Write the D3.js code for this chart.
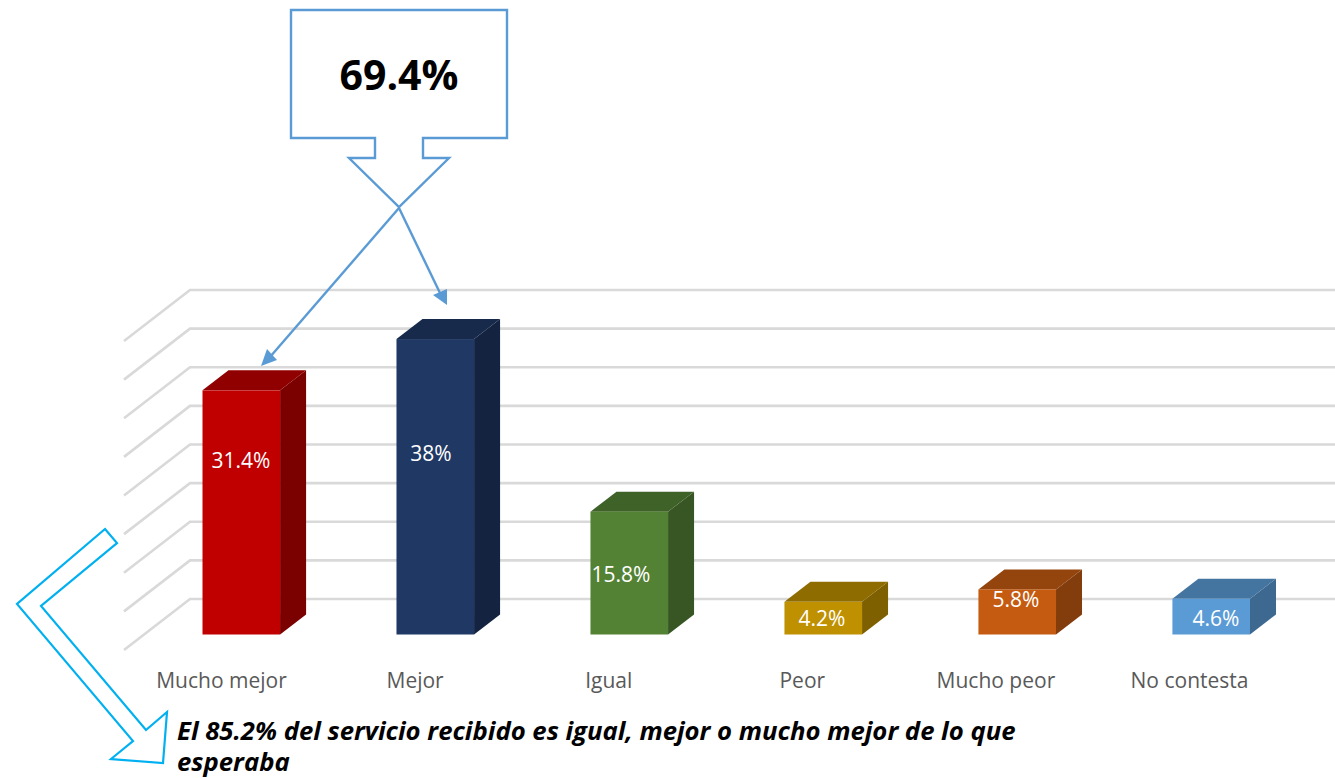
<!DOCTYPE html>
<html lang="es">
<head>
<meta charset="utf-8">
<style>
	html, body { margin: 0; padding: 0; background: #fff; }
	svg { display: block; }
	text { font-family: "Open Sans", "Noto Sans", sans-serif; }
</style>
</head>
<body>
<svg width="1335" height="778"></svg>
<script src="https://d3js.org/d3.v7.min.js"></script>
<script>
	var categories = ["Mucho mejor", "Mejor", "Igual", "Peor", "Mucho peor", "No contesta"];
	var values = [31.4, 38, 15.8, 4.2, 5.8, 4.6];
	var gridTicks = [0, 5, 10, 15, 20, 25, 30, 35, 40];
	var frontColors = ["#c00000", "#1f3864", "#548235", "#bf9000", "#c55a11", "#5b9bd5"];
	var topColors = ["#900000", "#172a4b", "#3f6228", "#8f6c00", "#94440d", "#4474a0"];
	var sideColors = ["#7b0000", "#14233f", "#375623", "#7f6000", "#833c0b", "#3d6990"];

	// hand placed in the original, so they do not follow the bars
	var labelCenters = [241, 431, 621, 822, 1016, 1216];
	var labelMiddles = [460, 453, 574, 618, 599, 618];

	var svg = d3.select("svg");

	var depthX = 26, depthY = 20;
	var wallX = 66, wallY = 51;

	var gridY = d3.scaleLinear().domain([0, 40]).range([599, 290]);
	var barY = d3.scaleLinear().domain([0, 40]).range([634.5, 323.5]);
	var x = d3.scaleBand().domain(categories).range([202.5, 1250]).paddingInner(0.6).paddingOuter(0);
	var labelX = d3.scalePoint().domain(categories).range([221, 1189]);

	// back wall and left wall
	var grid = svg.append("g");
	grid.selectAll(".wall")
		.data(gridTicks)
		.enter().append("polyline")
		.attr("class", "wall")
		.attr("fill", "none")
		.attr("stroke", "#d9d9d9")
		.attr("stroke-width", 2.6)
		.attr("points", function(d) {
			var y = gridY(d);
			return (190 - wallX) + "," + (y + wallY) + " 190," + y + " 1335," + y;
		});

	// bars: side and top first, then the front face
	var bars = svg.append("g").selectAll("g")
		.data(values)
		.enter().append("g");

	bars.append("polygon")
		.attr("fill", function(d, i) { return sideColors[i]; })
		.attr("points", function(d, i) {
			var r = x(categories[i]) + x.bandwidth();
			var t = barY(d), b = barY(0);
			return [[r, t], [r + depthX, t - depthY], [r + depthX, b - depthY], [r, b]].join(" ");
		});

	bars.append("polygon")
		.attr("fill", function(d, i) { return topColors[i]; })
		.attr("points", function(d, i) {
			var l = x(categories[i]), r = l + x.bandwidth();
			var t = barY(d);
			return [[l, t], [l + depthX, t - depthY], [r + depthX, t - depthY], [r, t]].join(" ");
		});

	bars.append("rect")
		.attr("fill", function(d, i) { return frontColors[i]; })
		.attr("x", function(d, i) { return x(categories[i]); })
		.attr("y", function(d) { return barY(d); })
		.attr("width", x.bandwidth())
		.attr("height", function(d) { return barY(0) - barY(d); });

	bars.append("text")
		.attr("x", function(d, i) { return labelCenters[i]; })
		.attr("y", function(d, i) { return labelMiddles[i]; })
		.attr("dy", "0.36em")
		.attr("text-anchor", "middle")
		.attr("font-size", "21px")
		.attr("fill", "#fff")
		.text(function(d) { return d + "%"; });

	// category labels
	var axis = svg.append("g")
		.attr("transform", "translate(0,668)")
		.call(d3.axisBottom(labelX).tickSize(0).tickPadding(0));
	axis.select(".domain").remove();
	axis.selectAll("text")
		.attr("dy", "0.36em")
		.attr("y", 12.5)
		.attr("font-size", "21px")
		.attr("font-family", '"Open Sans", "Noto Sans", sans-serif')
		.attr("fill", "#595959");

	// callout over the two best answers
	var blue = "#5b9bd5";
	svg.append("polygon")
		.attr("fill", "#fff")
		.attr("stroke", blue)
		.attr("stroke-width", 2.4)
		.attr("points", "291,10 507,10 507,138 423,138 423,158 449,158 399,207 349,158 375,158 375,138 291,138");
	svg.append("text")
		.attr("x", 399)
		.attr("y", 90)
		.attr("text-anchor", "middle")
		.attr("font-size", "41px")
		.attr("font-weight", 700)
		.attr("fill", "#000")
		.text("69.4%");

	svg.append("line").attr("x1", 399).attr("y1", 208).attr("x2", 270).attr("y2", 357)
		.attr("stroke", blue).attr("stroke-width", 2.4);
	svg.append("polygon").attr("fill", blue).attr("points", "261,366 267,349 277,360");
	svg.append("line").attr("x1", 399).attr("y1", 208).attr("x2", 440).attr("y2", 293)
		.attr("stroke", blue).attr("stroke-width", 2.4);
	svg.append("polygon").attr("fill", blue).attr("points", "447,305 433,295 447,289");

	// bent arrow and closing note
	svg.append("polygon")
		.attr("fill", "#fff")
		.attr("stroke", "#00b0f0")
		.attr("stroke-width", 2.2)
		.attr("points", "105,529 117,543 41,606 146,730 167,712 163,763 111,759 133,741 17,604");

	var note = svg.append("text")
		.attr("font-size", "25.7px")
		.attr("font-weight", 700)
		.attr("font-style", "italic")
		.attr("fill", "#000");
	note.append("tspan").attr("x", 177).attr("y", 740)
		.text("El 85.2% del servicio recibido es igual, mejor o mucho mejor de lo que");
	note.append("tspan").attr("x", 177).attr("y", 771)
		.text("esperaba");
</script>
</body>
</html>
